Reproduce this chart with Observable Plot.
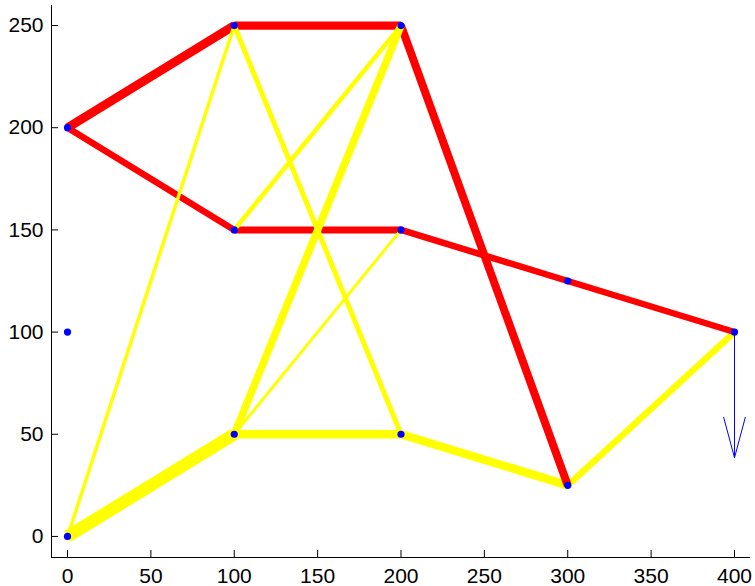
<!DOCTYPE html>
<html>
<head>
<meta charset="utf-8">
<script src="https://cdn.jsdelivr.net/npm/d3@7"></script>
<script src="https://cdn.jsdelivr.net/npm/@observablehq/plot@0.6"></script>
<style>
  html, body { margin: 0; padding: 0; background: #fff; }
  #chart svg { display: block; overflow: visible; }
</style>
</head>
<body>
<div id="chart"></div>
<script>
// Truss nodes (data coordinates)
const nodeX = [0, 0, 0, 100, 200, 100, 200, 300, 400, 100, 200, 300];
const nodeY = [0, 100, 200, 250, 250, 150, 150, 125, 100, 50, 50, 25];

// Members: start node, end node, member force (+ tension red, - compression yellow)
const memberStart = [0, 9, 10, 11, 2, 3, 4, 2, 5, 6, 7, 0, 3, 5, 9, 9];
const memberEnd   = [9, 10, 11, 8, 3, 4, 11, 5, 6, 7, 8, 3, 10, 4, 4, 6];
const memberForce = [-12.5, -8.3, -8.5, -6.5, 9, 8.3, 8, 6.5, 7, 6.5, 6.3, -3.5, -5, -4.6, -7.5, -3];

// Applied load at node 8 (downward)
const loadNode = 8;
const loadDY = -61.5;

// Tick labels
const xTicks = [0, 50, 100, 150, 200, 250, 300, 350, 400];
const yTicks = [0, 50, 100, 150, 200, 250];

const xDomain = [-9.6, 409.6];
const yDomain = [-10.3, 259.8];

const nodes = nodeX.map((x, i) => ({x, y: nodeY[i]}));
const members = memberStart.map((s, i) => ({
  x1: nodeX[s], y1: nodeY[s],
  x2: nodeX[memberEnd[i]], y2: nodeY[memberEnd[i]],
  force: memberForce[i]
}));
const load = [{x1: nodeX[loadNode], y1: nodeY[loadNode], x2: nodeX[loadNode], y2: nodeY[loadNode] + loadDY}];

const W = 755, H = 586, mL = 51, mR = 5, mT = 5, mB = 29;
const tickLen = 7;

const chart = Plot.plot({
  width: W,
  height: H,
  marginLeft: mL,
  marginRight: mR,
  marginTop: mT,
  marginBottom: mB,
  style: {fontFamily: "'Liberation Sans', Arial, sans-serif", fontSize: "21px", color: "#000", background: "#fff"},
  x: {domain: xDomain},
  y: {domain: yDomain},
  marks: [
    Plot.link(members, {
      x1: "x1", y1: "y1", x2: "x2", y2: "y2",
      stroke: d => d.force > 0 ? "#ff0000" : "#ffff00",
      strokeWidth: d => Math.abs(d.force),
      strokeLinecap: "butt",
      strokeOpacity: 1
    }),
    Plot.dot(nodes, {x: "x", y: "y", r: 3.6, fill: "#0000ff", stroke: null}),
    Plot.arrow(load, {
      x1: "x1", y1: "y1", x2: "x2", y2: "y2",
      stroke: "#0000ff", strokeWidth: 1, headLength: 63, headAngle: 30, bend: 0
    }),
    // inward tick marks
    Plot.tickY(yTicks, {y: d => d, stroke: "#000", strokeWidth: 1, insetRight: (W - mL - mR) - tickLen}),
    Plot.tickX(xTicks, {x: d => d, stroke: "#000", strokeWidth: 1, insetTop: (H - mT - mB) - tickLen}),
    // axis lines
    Plot.ruleX([xDomain[0]], {stroke: "#000", strokeWidth: 1}),
    Plot.ruleY([yDomain[0]], {stroke: "#000", strokeWidth: 1}),
    Plot.axisX(xTicks, {anchor: "bottom", tickSize: 0, tickPadding: 11, fontSize: 21, fill: "#000"}),
    Plot.axisY(yTicks, {anchor: "left", tickSize: 0, tickPadding: 8, fontSize: 21, fill: "#000"})
  ]
});
document.getElementById("chart").appendChild(chart);
</script>
</body>
</html>
